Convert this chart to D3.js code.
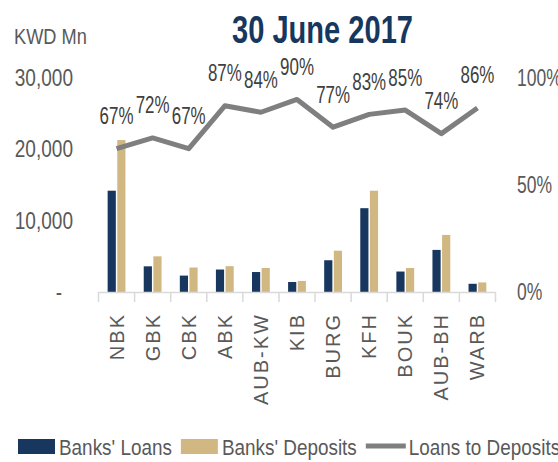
<!DOCTYPE html>
<html>
<head>
<meta charset="utf-8">
<script src="https://cdn.jsdelivr.net/npm/d3@7"></script>
<style>
  html, body { margin: 0; padding: 0; background: #fff; }
  svg { display: block; }
</style>
</head>
<body>
<div id="chart"></div>
<script>
// ---- data ----
const categories = ["NBK", "GBK", "CBK", "ABK", "AUB-KW", "KIB", "BURG", "KFH", "BOUK", "AUB-BH", "WARB"];
const loans      = [14200, 3600, 2300, 3150, 2800, 1400, 4450, 11750, 2870, 5900, 1150];
const deposits   = [21300, 5000, 3430, 3620, 3370, 1550, 5790, 14200, 3370, 8000, 1340];
const loansToDeposits = [0.67, 0.72, 0.67, 0.87, 0.84, 0.90, 0.77, 0.83, 0.85, 0.74, 0.86];
const leftTicks  = [0, 10000, 20000, 30000];
const rightTicks = [0, 0.5, 1];
const seriesNames = ["Banks' Loans", "Banks' Deposits", "Loans to Deposits"];
const titleText = "30 June 2017";
const unitText = "KWD Mn";

// ---- styles ----
const W = 558, H = 462;
const navy = "#17375e", tan = "#d1b883", grey = "#7f7f7f", textGrey = "#595959", axisGrey = "#d9d9d9";
const sans = '"Liberation Sans", Arial, sans-serif';
const N = 0.81; // condensing factor (narrow face look)

const svg = d3.select("#chart").append("svg").attr("width", W).attr("height", H);

const x = d3.scaleBand().domain(categories).range([98.5, 495.5]).padding(0);
const xSub = d3.scaleBand().domain(["loans", "deposits"]).range([0, x.bandwidth()])
  .paddingInner(0.15).paddingOuter(0.95);
const y = d3.scaleLinear().domain([0, 30000]).range([292, 78]);
const y2 = d3.scaleLinear().domain([0, 1]).range([292, 78]);

function squeeze(sel, f) {
  sel.each(function () {
    const l = this.getComputedTextLength();
    this.__w = l * f;
    d3.select(this).attr("textLength", l * f).attr("lengthAdjust", "spacingAndGlyphs");
  });
}

// title
svg.append("text").attr("x", 322.5).attr("y", 43).attr("text-anchor", "middle")
  .attr("font-family", sans).attr("font-weight", "bold").attr("font-size", 39)
  .attr("fill", navy).text(titleText).call(squeeze, 0.745);

// unit label
svg.append("text").attr("x", 14).attr("y", 44).attr("font-family", sans)
  .attr("font-size", 22.5).attr("fill", textGrey).text(unitText).call(squeeze, N);

// left axis
const gL = svg.append("g").attr("transform", "translate(73,0)")
  .call(d3.axisLeft(y).tickValues(leftTicks).tickSize(0).tickPadding(0)
    .tickFormat(d => d === 0 ? "-" : d3.format(",")(d)));
gL.select(".domain").remove();
gL.selectAll("text").attr("font-family", sans).attr("font-size", 23.5).attr("fill", textGrey)
  .attr("dx", d => d === 0 ? -11 : 0).call(squeeze, N);

// right axis
const gR = svg.append("g").attr("transform", "translate(517,0)")
  .call(d3.axisRight(y2).tickValues(rightTicks).tickSize(0).tickPadding(0)
    .tickFormat(d3.format(".0%")));
gR.select(".domain").remove();
gR.selectAll("text").attr("font-family", sans).attr("font-size", 23.5).attr("fill", textGrey)
  .call(squeeze, 0.745);

// bars
const bars = svg.append("g");
bars.selectAll("rect.loan").data(categories).join("rect").attr("class", "loan")
  .attr("x", (c) => x(c) + xSub("loans")).attr("width", xSub.bandwidth())
  .attr("y", (c, i) => y(loans[i])).attr("height", (c, i) => y(0) - y(loans[i]))
  .attr("fill", navy);
bars.selectAll("rect.dep").data(categories).join("rect").attr("class", "dep")
  .attr("x", (c) => x(c) + xSub("deposits")).attr("width", xSub.bandwidth())
  .attr("y", (c, i) => y(deposits[i])).attr("height", (c, i) => y(0) - y(deposits[i]))
  .attr("fill", tan);

// x axis line + boundary ticks
const gX = svg.append("g");
const x0 = x.range()[0], x1 = x.range()[1];
gX.append("line").attr("x1", x0).attr("x2", x1).attr("y1", y(0) + 0.5).attr("y2", y(0) + 0.5)
  .attr("stroke", axisGrey).attr("stroke-width", 1.5);
const bounds = categories.map(c => x(c)).concat([x1]);
gX.selectAll("line.tk").data(bounds).join("line").attr("class", "tk")
  .attr("x1", d => d).attr("x2", d => d).attr("y1", y(0)).attr("y2", y(0) + 10)
  .attr("stroke", axisGrey).attr("stroke-width", 1.5);

// category labels
const gC = svg.append("g").attr("transform", `translate(0,${y(0)})`)
  .call(d3.axisBottom(x).tickSize(0));
gC.select(".domain").remove();
gC.selectAll("text").attr("transform", "rotate(-90)").attr("x", -21).attr("y", 0)
  .attr("dy", "0.35em").attr("text-anchor", "end")
  .attr("font-family", sans).attr("font-size", 20)
  .attr("letter-spacing", 2).attr("fill", textGrey);

// line
const line = d3.line().x((d, i) => x(categories[i]) + x.bandwidth() / 2).y(d => y2(d));
svg.append("path").datum(loansToDeposits).attr("d", line).attr("fill", "none")
  .attr("stroke", grey).attr("stroke-width", 5).attr("stroke-linejoin", "round");

// data labels
svg.append("g").selectAll("text").data(loansToDeposits).join("text")
  .attr("x", (d, i) => x(categories[i]) + x.bandwidth() / 2)
  .attr("y", d => y2(d) - 24.5).attr("text-anchor", "middle")
  .attr("font-family", sans).attr("font-size", 23.5).attr("fill", "#404040")
  .text(d => d3.format(".0%")(d)).call(squeeze, 0.72);

// legend
const lg = svg.append("g");
let lx = 18;
const ly = 439;
seriesNames.forEach((name, i) => {
  if (i < 2) {
    lg.append("rect").attr("x", lx).attr("y", ly).attr("width", 37).attr("height", 15)
      .attr("fill", i === 0 ? navy : tan);
    lx += 41;
  } else {
    lg.append("line").attr("x1", lx).attr("x2", lx + 40).attr("y1", ly + 7).attr("y2", ly + 7)
      .attr("stroke", grey).attr("stroke-width", 5);
    lx += 43;
  }
  const t = lg.append("text").attr("x", lx).attr("y", ly + 16).attr("font-family", sans)
    .attr("font-size", 22.5).attr("fill", textGrey).text(name).call(squeeze, 0.84);
  lx += t.node().__w + 9;
});
</script>
</body>
</html>
